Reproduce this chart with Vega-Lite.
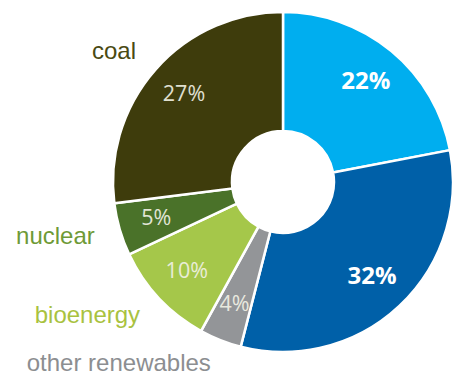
{
  "$schema": "https://vega.github.io/schema/vega-lite/v6.json",
  "width": 340,
  "height": 340,
  "autosize": "none",
  "padding": {"left": 113, "top": 12, "right": 0, "bottom": 23},
  "background": "white",
  "data": {
    "values": [
      {"rank": 1, "source": "wind", "share": 22, "pct": "22%"},
      {"rank": 2, "source": "solar", "share": 32, "pct": "32%"},
      {"rank": 3, "source": "other renewables", "share": 4, "pct": "4%"},
      {"rank": 4, "source": "bioenergy", "share": 10, "pct": "10%"},
      {"rank": 5, "source": "nuclear", "share": 5, "pct": "5%"},
      {"rank": 6, "source": "coal", "share": 27, "pct": "27%"}
    ]
  },
  "encoding": {
    "theta": {"field": "share", "type": "quantitative", "stack": true},
    "order": {"field": "rank", "type": "quantitative"}
  },
  "layer": [
    {
      "mark": {"type": "arc", "innerRadius": 51, "outerRadius": 170, "stroke": "white", "strokeWidth": 2.5},
      "encoding": {
        "color": {
          "field": "source",
          "type": "nominal",
          "scale": {
            "domain": ["wind", "solar", "other renewables", "bioenergy", "nuclear", "coal"],
            "range": ["#00AEEF", "#0060A8", "#939598", "#A5C74A", "#4A7229", "#3E3C0C"]
          },
          "legend": null
        }
      }
    },
    {
      "mark": {"type": "text", "radius": 130, "font": "Open Sans", "fontSize": 24, "fontWeight": "bold", "fill": "white", "align": "center", "baseline": "middle"},
      "encoding": {
        "text": {"condition": {"test": "datum.rank <= 2", "field": "pct"}, "value": ""}
      }
    },
    {
      "mark": {"type": "text", "radius": 132, "font": "Open Sans", "fontSize": 21.5, "fill": "#F2F2E6", "opacity": 0.9, "align": "center", "baseline": "middle"},
      "encoding": {
        "text": {"condition": {"test": "datum.rank > 2", "field": "pct"}, "value": ""}
      }
    },
    {
      "mark": {"type": "text", "radius": 196, "font": "Liberation Sans", "fontSize": 24, "align": "right", "baseline": "middle"},
      "encoding": {
        "text": {"condition": {"test": "datum.rank > 2", "field": "source"}, "value": ""},
        "color": {
          "field": "source",
          "type": "nominal",
          "scale": {
            "domain": ["wind", "solar", "other renewables", "bioenergy", "nuclear", "coal"],
            "range": ["#00AEEF", "#0060A8", "#8C8E91", "#A9C23F", "#6E9A36", "#4A4A12"]
          },
          "legend": null
        }
      }
    }
  ],
  "resolve": {"scale": {"color": "independent"}},
  "config": {"view": {"stroke": null}}
}
